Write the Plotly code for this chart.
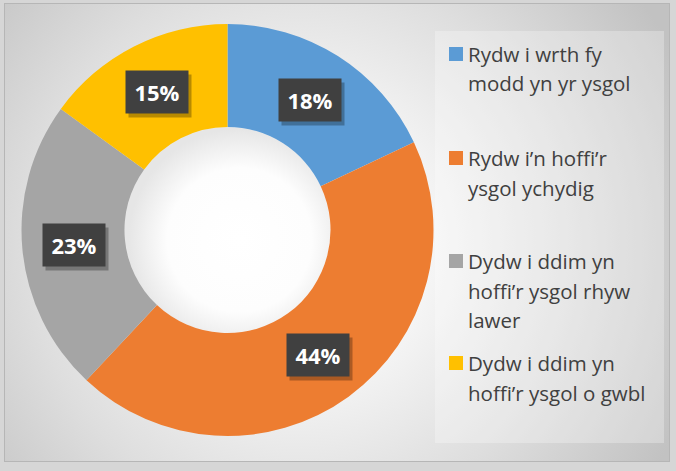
import math
import base64
import plotly.graph_objects as go

# ---- data ----
categories = [
    "Rydw i wrth fy modd yn yr ysgol",
    "Rydw i\u2019n hoffi\u2019r ysgol ychydig",
    "Dydw i ddim yn hoffi\u2019r ysgol rhyw lawer",
    "Dydw i ddim yn hoffi\u2019r ysgol o gwbl",
]
legend_lines = [
    ["Rydw i wrth fy", "modd yn yr ysgol"],
    ["Rydw i\u2019n hoffi\u2019r", "ysgol ychydig"],
    ["Dydw i ddim yn", "hoffi\u2019r ysgol rhyw", "lawer"],
    ["Dydw i ddim yn", "hoffi\u2019r ysgol o gwbl"],
]
values = [18, 44, 23, 15]
colors = ["#5B9BD5", "#ED7D31", "#A5A5A5", "#FFC000"]

# ---- geometry / style ----
W, H = 676, 471
CX, CY, R = 227.5, 230.0, 206.0
HOLE = 0.5

svg = f'''<svg xmlns="http://www.w3.org/2000/svg" width="{W}" height="{H}" viewBox="0 0 {W} {H}" preserveAspectRatio="none">
<defs>
<radialGradient id="bg" gradientUnits="userSpaceOnUse" cx="300" cy="245" r="420">
<stop offset="0" stop-color="#ffffff"/>
<stop offset="0.3" stop-color="#f6f6f6"/>
<stop offset="0.65" stop-color="#dedede"/>
<stop offset="1" stop-color="#c2c2c2"/>
</radialGradient>
<radialGradient id="hole" gradientUnits="userSpaceOnUse" cx="{CX+12}" cy="{CY+10}" r="{R*HOLE+8}">
<stop offset="0" stop-color="#ffffff"/>
<stop offset="0.65" stop-color="#fdfdfd"/>
<stop offset="1" stop-color="#e6e6e6"/>
</radialGradient>
</defs>
<rect x="0" y="0" width="{W}" height="{H}" fill="#d6d6d6"/>
<rect x="4.5" y="3.5" width="665" height="458" fill="url(#bg)" stroke="#b6b6b6" stroke-width="1"/>
<rect x="435" y="31" width="229" height="412" fill="#ffffff" fill-opacity="0.28"/>
<circle cx="{CX}" cy="{CY}" r="{R*HOLE}" fill="url(#hole)"/>
</svg>'''
svg_uri = "data:image/svg+xml;base64," + base64.b64encode(svg.encode()).decode()

fig = go.Figure()
fig.add_trace(go.Pie(
    labels=categories,
    values=values,
    marker=dict(colors=colors, line=dict(width=0)),
    hole=HOLE,
    sort=False,
    direction="clockwise",
    rotation=0,
    textinfo="none",
    hoverinfo="label+percent",
    showlegend=False,
    domain=dict(x=[(CX - R) / W, (CX + R) / W],
                y=[(H - CY - R) / H, (H - CY + R) / H]),
))

annotations = []
total = sum(values)
cum = 0.0
rm = R * (1 + HOLE) / 2
for v in values:
    mid = (cum + v / 2) / total * 2 * math.pi
    cum += v
    xp = CX + rm * math.sin(mid)
    yp = CY - rm * math.cos(mid)
    txt = f"{v / total * 100:.0f}%"
    # shadow
    annotations.append(dict(
        x=xp / W, y=1 - yp / H, xref="paper", yref="paper",
        xanchor="center", yanchor="middle",
        text=" ", showarrow=False, width=62, height=42,
        bgcolor="rgba(0,0,0,0.28)", borderpad=0, xshift=3, yshift=-4,
    ))
    annotations.append(dict(
        x=xp / W, y=1 - yp / H, xref="paper", yref="paper",
        xanchor="center", yanchor="middle",
        text=f"<b>{txt}</b>", showarrow=False, width=62, height=42,
        bgcolor="#404040", borderpad=0,
        font=dict(family="Open Sans", size=22, color="#ffffff"),
    ))

shapes = []
baselines = [60, 164, 267, 369]
line_gap = 29.5
for i, lines in enumerate(legend_lines):
    b = baselines[i]
    shapes.append(dict(
        type="rect", xref="paper", yref="paper",
        x0=449 / W, x1=463 / W, y0=1 - (b + 1) / H, y1=1 - (b - 13) / H,
        fillcolor=colors[i], line=dict(width=0), layer="above",
    ))
    for j, ln in enumerate(lines):
        yb = b + j * line_gap
        annotations.append(dict(
            x=467 / W, y=1 - (yb - 6) / H, xref="paper", yref="paper",
            xanchor="left", yanchor="middle", text=ln, showarrow=False,
            borderpad=0,
            font=dict(family="Open Sans", size=20.5, color="#404040"),
        ))

fig.update_layout(
    width=W, height=H,
    margin=dict(l=0, r=0, t=0, b=0),
    paper_bgcolor="#d6d6d6",
    plot_bgcolor="rgba(0,0,0,0)",
    images=[dict(source=svg_uri, xref="paper", yref="paper", x=0, y=1,
                 sizex=1, sizey=1, xanchor="left", yanchor="top",
                 sizing="stretch", layer="below")],
    shapes=shapes,
    annotations=annotations,
)

fig.write_html("out.html", config={"displayModeBar": False},
               post_script="document.body.style.margin='0';")
